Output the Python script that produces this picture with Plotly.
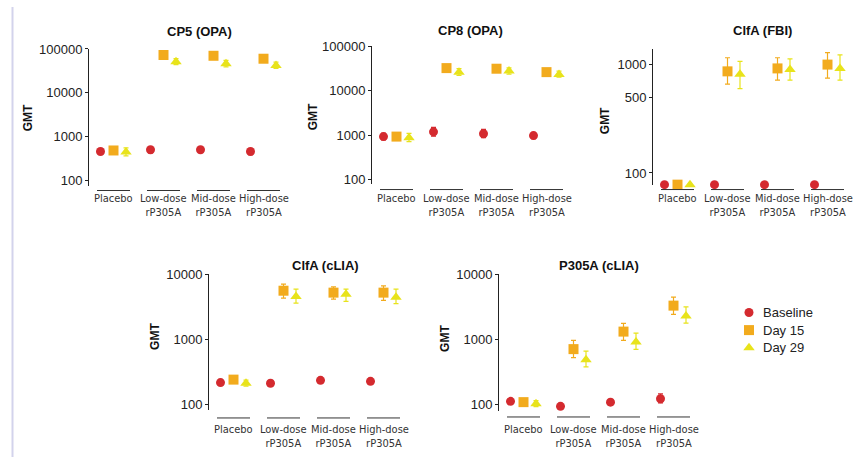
import plotly.graph_objects as go

W, H = 858, 461

categories = ["Placebo", "Low-dose<br>rP305A", "Mid-dose<br>rP305A", "High-dose<br>rP305A"]
series_names = ["Baseline", "Day 15", "Day 29"]

# CP5 (OPA)
cp5_base = [464, 510, 510, 464]
cp5_base_lo = [400, 430, 440, 395]
cp5_base_hi = [540, 600, 590, 540]
cp5_d15 = [490, 73000, 70000, 60000]
cp5_d15_lo = [400, 62000, 60000, 52000]
cp5_d15_hi = [600, 83000, 80000, 68000]
cp5_d29 = [450, 51000, 46000, 42000]
cp5_d29_lo = [370, 44000, 39000, 36000]
cp5_d29_hi = [560, 60000, 55000, 50000]

# CP8 (OPA)
cp8_base = [930, 1190, 1080, 980]
cp8_base_lo = [780, 950, 880, 840]
cp8_base_hi = [1100, 1500, 1350, 1150]
cp8_d15 = [930, 32000, 31000, 26000]
cp8_d15_lo = [760, 27000, 27000, 23000]
cp8_d15_hi = [1120, 37000, 36000, 30000]
cp8_d29 = [880, 26000, 27500, 23000]
cp8_d29_lo = [720, 22000, 23500, 20000]
cp8_d29_hi = [1100, 31000, 32500, 27500]

# ClfA (FBI)
fbi_base = [78, 78, 78, 78]
fbi_base_lo = [78, 78, 78, 78]
fbi_base_hi = [78, 78, 78, 78]
fbi_d15 = [78, 866, 922, 1000]
fbi_d15_lo = [78, 660, 720, 750]
fbi_d15_hi = [78, 1156, 1156, 1290]
fbi_d29 = [78, 813, 900, 922]
fbi_d29_lo = [78, 600, 720, 720]
fbi_d29_hi = [78, 1070, 1130, 1230]

# ClfA (cLIA)
clfa_base = [216, 211, 234, 226]
clfa_base_lo = [205, 200, 222, 215]
clfa_base_hi = [228, 222, 246, 238]
clfa_d15 = [240, 5620, 5250, 5250]
clfa_d15_lo = [215, 4315, 4170, 3980]
clfa_d15_hi = [265, 7080, 6460, 6680]
clfa_d29 = [211, 4570, 4950, 4470]
clfa_d29_lo = [190, 3630, 3850, 3550]
clfa_d29_hi = [235, 5960, 5960, 5960]

# P305A (cLIA)
p305_base = [111, 93, 108, 122]
p305_base_lo = [100, 85, 100, 105]
p305_base_hi = [122, 100, 116, 145]
p305_d15 = [108, 708, 1318, 3310]
p305_d15_lo = [98, 525, 966, 2430]
p305_d15_hi = [118, 966, 1758, 4470]
p305_d29 = [102, 484, 912, 2290]
p305_d29_lo = [92, 376, 700, 1780]
p305_d29_hi = [114, 661, 1245, 3160]

titles = ["CP5 (OPA)", "CP8 (OPA)", "ClfA (FBI)", "ClfA (cLIA)", "P305A (cLIA)"]
ytick_sets = [
    [100, 1000, 10000, 100000],
    [100, 1000, 10000, 100000],
    [100, 500, 1000],
    [100, 1000, 10000],
    [100, 1000, 10000],
]

panel_data = [
    [(cp5_base, cp5_base_lo, cp5_base_hi), (cp5_d15, cp5_d15_lo, cp5_d15_hi), (cp5_d29, cp5_d29_lo, cp5_d29_hi)],
    [(cp8_base, cp8_base_lo, cp8_base_hi), (cp8_d15, cp8_d15_lo, cp8_d15_hi), (cp8_d29, cp8_d29_lo, cp8_d29_hi)],
    [(fbi_base, fbi_base_lo, fbi_base_hi), (fbi_d15, fbi_d15_lo, fbi_d15_hi), (fbi_d29, fbi_d29_lo, fbi_d29_hi)],
    [(clfa_base, clfa_base_lo, clfa_base_hi), (clfa_d15, clfa_d15_lo, clfa_d15_hi), (clfa_d29, clfa_d29_lo, clfa_d29_hi)],
    [(p305_base, p305_base_lo, p305_base_hi), (p305_d15, p305_d15_lo, p305_d15_hi), (p305_d29, p305_d29_lo, p305_d29_hi)],
]

# layout geometry (pixels)
panels = [
    dict(x0=89, y0=43, y1=183, yr=[1.89, 5.0], title=(199, 25), gmt=(28, 114), uline=188, lab=187),
    dict(x0=372, y0=40, y1=181, yr=[1.912, 5.0], title=(470, 24), gmt=(313, 113), uline=187, lab=187),
    dict(x0=653, y0=43, y1=182, yr=[1.892, 3.144], title=(762, 24), gmt=(605, 117), uline=187, lab=187),
    dict(x0=209, y0=274, y1=413, yr=[1.91, 4.0], title=(325, 265), gmt=(155, 338), uline=421, lab=424),
    dict(x0=499, y0=274, y1=414, yr=[1.895, 4.0], title=(599, 265), gmt=(445, 340), uline=420, lab=424),
]
XR = [-0.49, 3.51]
PW = 200

colors = ["#d42a2f", "#f2ab1d", "#e8e31b"]
symbols = ["circle", "square", "triangle-up"]
sizes = [9, 10, 10]
offsets = [-0.26, 0.0, 0.25]

FONT = "Liberation Sans, Arial, sans-serif"
NARROW = "Liberation Sans Narrow, DejaVu Sans Condensed, Arial, sans-serif"

fig = go.Figure()
annotations = []
shapes = []

def px(x):
    return x / W

def py(y):
    return 1 - y / H

for i, p in enumerate(panels):
    n = i + 1
    xa = "x" if n == 1 else f"x{n}"
    ya = "y" if n == 1 else f"y{n}"
    for s in range(3):
        vals, lo, hi = panel_data[i][s]
        xs = [k + offsets[s] for k in range(len(categories))]
        fig.add_trace(go.Scatter(
            x=xs, y=vals, mode="markers", xaxis=xa, yaxis=ya,
            name=series_names[s], showlegend=False,
            marker=dict(symbol=symbols[s], size=sizes[s], color=colors[s], line=dict(width=0)),
            error_y=dict(type="data", symmetric=False,
                         array=[h - v for h, v in zip(hi, vals)],
                         arrayminus=[v - l for v, l in zip(vals, lo)],
                         color=colors[s], thickness=1.2, width=2.5),
            cliponaxis=False,
        ))
    xkey = "xaxis" if n == 1 else f"xaxis{n}"
    ykey = "yaxis" if n == 1 else f"yaxis{n}"
    fig.update_layout(**{
        xkey: dict(domain=[px(p["x0"]), px(p["x0"] + PW)], range=XR, anchor=ya,
                   showline=False, showgrid=False, zeroline=False, showticklabels=False, ticks=""),
        ykey: dict(domain=[py(p["y1"]), py(p["y0"])], type="log", range=p["yr"], anchor=xa,
                   showline=True, linecolor="#222", linewidth=1, showgrid=False, zeroline=False,
                   ticks="outside", ticklen=3, tickcolor="#222",
                   tickvals=ytick_sets[i], ticktext=[str(v) for v in ytick_sets[i]],
                   tickfont=dict(family=FONT, size=13, color="#222")),
    })
    annotations.append(dict(text=f"<b>{titles[i]}</b>", x=px(p["title"][0]), y=py(p["title"][1]),
                            xref="paper", yref="paper", showarrow=False, xanchor="center", yanchor="middle",
                            font=dict(family=FONT, size=13, color="#111")))
    annotations.append(dict(text="<b>GMT</b>", x=px(p["gmt"][0]), y=py(p["gmt"][1]),
                            xref="paper", yref="paper", showarrow=False, textangle=-90,
                            xanchor="center", yanchor="middle",
                            font=dict(family=FONT, size=12, color="#111")))
    for k, cat in enumerate(categories):
        shapes.append(dict(type="line", xref=xa, yref="paper",
                           x0=k - 0.33, x1=k + 0.33, y0=py(p["uline"]), y1=py(p["uline"]),
                           line=dict(color="#333", width=1)))
        annotations.append(dict(text=cat, x=k, y=py(p["lab"]), xref=xa, yref="paper",
                                showarrow=False, xanchor="center", yanchor="top",
                                font=dict(family=NARROW, size=11, color="#333")))

# custom legend on a hidden axis (pixel-like units)
LX0, LY0 = 740, 300
for s in range(3):
    fig.add_trace(go.Scatter(
        x=[9], y=[13 + 18 * s], mode="markers", xaxis="x6", yaxis="y6", showlegend=False,
        marker=dict(symbol=symbols[s], size=sizes[s], color=colors[s], line=dict(width=0)),
        hoverinfo="skip", cliponaxis=False,
    ))
    annotations.append(dict(text=series_names[s], x=21, y=13 + 18 * s, xref="x6", yref="y6",
                            showarrow=False, xanchor="left", yanchor="middle",
                            font=dict(family=FONT, size=13, color="#222")))
fig.update_layout(
    xaxis6=dict(domain=[px(LX0), px(LX0 + 100)], range=[0, 100], visible=False, anchor="y6"),
    yaxis6=dict(domain=[py(LY0 + 60), py(LY0)], range=[60, 0], visible=False, anchor="x6"),
)

shapes.append(dict(type="line", xref="paper", yref="paper", x0=px(12.5), x1=px(12.5), y0=0, y1=1,
                   line=dict(color="#d3d3ec", width=2)))

fig.update_layout(
    width=W, height=H, margin=dict(l=0, r=0, t=0, b=0),
    paper_bgcolor="white", plot_bgcolor="white",
    annotations=annotations, shapes=shapes,
    showlegend=False,
)

fig.write_html("out.html", config={"displayModeBar": False},
               post_script="document.body.style.margin='0';document.body.style.padding='0';document.body.style.overflow='hidden';")
